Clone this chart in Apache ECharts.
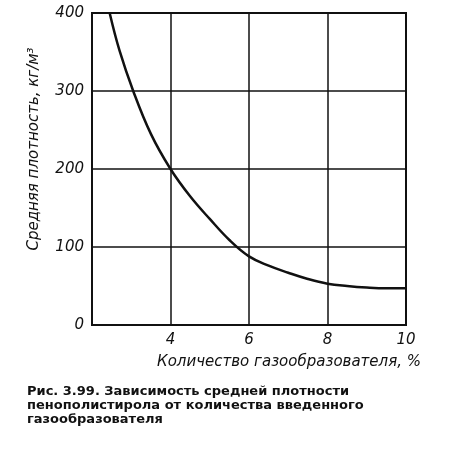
<!DOCTYPE html>
<html><head><meta charset="utf-8">
<script src="https://cdn.jsdelivr.net/npm/echarts@6/dist/echarts.min.js"></script>
<style>html,body{margin:0;background:#fff}#c{width:463px;height:455px}</style>
</head><body><div id="c"></div>
<script>
// количество газообразователя, % -> средняя плотность, кг/м3
const xVals = [2.45, 2.7, 3.05, 3.5, 4, 4.5, 5, 5.5, 6, 6.5, 7, 7.5, 8, 8.5, 9, 9.5, 10];
const yVals = [400, 352, 300, 245, 200, 165, 136, 109, 88, 76, 67, 59, 53, 50, 48, 47, 47];
const xTicks = [4, 6, 8, 10];

let chart = echarts.init(document.getElementById('c'));
let axisFont = {fontFamily: 'DejaVu Sans', fontStyle: 'italic', fontSize: 15, color: '#111'};
let option = {
  animation: false,
  backgroundColor: '#fff',
  grid: {left: 92, right: 57, top: 13, bottom: 130},
  title: {
    text: 'Рис. 3.99. Зависимость средней плотности\nпенополистирола от количества введенного\nгазообразователя',
    left: 22, top: 380,
    textStyle: {fontFamily: 'DejaVu Sans', fontWeight: 'bold', fontSize: 13, lineHeight: 14, color: '#111'}
  },
  xAxis: {
    type: 'value', min: 2, max: 10, interval: 2,
    name: 'Количество газообразователя, %',
    nameLocation: 'middle', nameGap: 30, nameTextStyle: Object.assign({}, axisFont, {padding: [0, 0, 0, 80]}),
    axisLine: {lineStyle: {color: '#111', width: 2}},
    axisTick: {show: false},
    axisLabel: Object.assign({}, axisFont, {formatter: v => xTicks.includes(v) ? v : ''}),
    splitLine: {lineStyle: {color: '#111', width: 1.5}}
  },
  yAxis: {
    type: 'value', min: 0, max: 400, interval: 100,
    name: 'Средняя плотность, кг/м³',
    nameLocation: 'middle', nameGap: 50, nameTextStyle: Object.assign({}, axisFont, {padding: [0, 0, 0, 40]}),
    axisLine: {lineStyle: {color: '#111', width: 2}},
    axisTick: {show: false},
    axisLabel: axisFont,
    splitLine: {lineStyle: {color: '#111', width: 1.5}}
  },
  series: [{
    type: 'line', smooth: 0.4, symbol: 'none',
    data: xVals.map((x, i) => [x, yVals[i]]),
    lineStyle: {color: '#111', width: 2.5}
  }],
  graphic: [{type: 'rect', shape: {x: 92, y: 13, width: 314, height: 312}, style: {fill: 'none', stroke: '#111', lineWidth: 2}}]
};
chart.setOption(option);
</script></body></html>
